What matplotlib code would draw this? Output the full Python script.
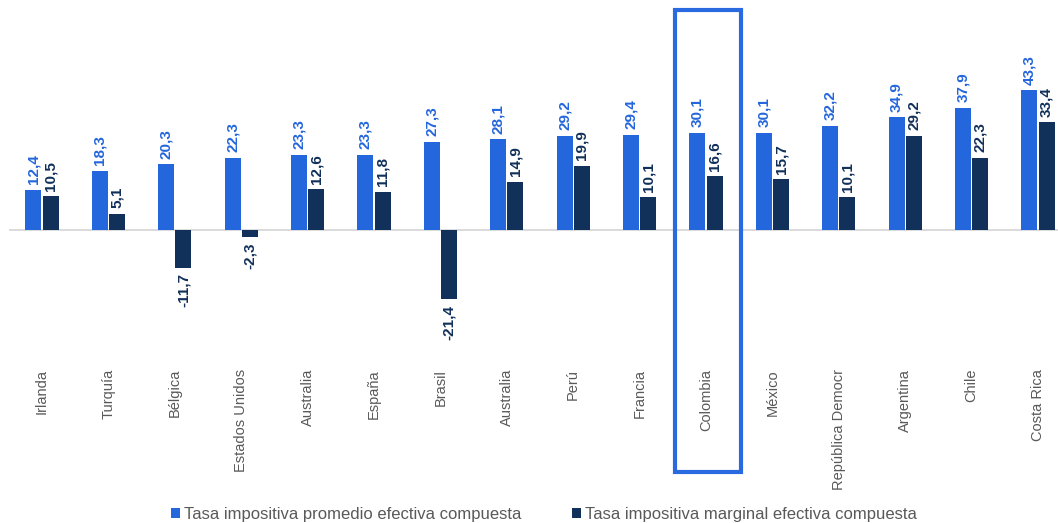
import matplotlib
matplotlib.use("Agg")
import matplotlib.pyplot as plt
from matplotlib.patches import Rectangle
import numpy as np

# ------------------------------------------------------------------
# data
# ------------------------------------------------------------------
countries = ["Irlanda", "Turquía", "Bélgica", "Estados Unidos", "Australia",
             "España", "Brasil", "Australia", "Perú", "Francia", "Colombia",
             "México", "República Democr", "Argentina", "Chile", "Costa Rica"]
promedio = [12.4, 18.3, 20.3, 22.3, 23.3, 23.3, 27.3, 28.1, 29.2, 29.4,
            30.1, 30.1, 32.2, 34.9, 37.9, 43.3]
marginal = [10.5, 5.1, -11.7, -2.3, 12.6, 11.8, -21.4, 14.9, 19.9, 10.1,
            16.6, 15.7, 10.1, 29.2, 22.3, 33.4]
highlight = "Colombia"

BLUE = "#2466dc"
NAVY = "#11305a"
GRAY = "#595959"

plt.rcParams["font.family"] = ["Liberation Sans", "DejaVu Sans"]

fig = plt.figure(figsize=(10.58, 5.23), dpi=100)
# zero line sits at ~230 px from top, 3.23 px per unit
ax = fig.add_axes([8.8 / 1058, (523 - 355) / 523, 1 - 8.8 / 1058, 355 / 523])
ax.set_xlim(-0.5, (1058 - 42) / 66.4)
ax.set_ylim(-(355 - 230) / 3.23, 230 / 3.23)

x = np.arange(len(countries))
w = 0.24
off = 0.13
ax.bar(x - off, promedio, w, color=BLUE, label="Tasa impositiva promedio efectiva compuesta")
ax.bar(x + off, marginal, w, color=NAVY, label="Tasa impositiva marginal efectiva compuesta")
ax.axhline(0, color="#d4d4d4", lw=1.2, zorder=0)

def fmt(v):
    return f"{v:.1f}".replace(".", ",")

for xi, v in zip(x, promedio):
    ax.annotate(fmt(v), (xi - off, v), xytext=(0, 4), textcoords="offset points",
                rotation=90, ha="center", va="bottom", fontsize=11,
                fontweight="bold", color=BLUE)
for xi, v in zip(x, marginal):
    if v >= 0:
        ax.annotate(fmt(v), (xi + off, v), xytext=(0, 4), textcoords="offset points",
                    rotation=90, ha="center", va="bottom", fontsize=11,
                    fontweight="bold", color=NAVY)
    else:
        ax.annotate(fmt(v), (xi + off, v), xytext=(0, -4), textcoords="offset points",
                    rotation=90, ha="center", va="top", fontsize=11,
                    fontweight="bold", color=NAVY)

ax.set_xticks(x)
ax.set_xticklabels(countries, rotation=90, fontsize=10.5, color=GRAY)
ax.tick_params(axis="x", length=0, pad=10)
ax.set_yticks([])
for s in ax.spines.values():
    s.set_visible(False)

# highlight box around Colombia
i = countries.index(highlight)
box = Rectangle((i - 0.47, -(472 - 230) / 3.23), 0.99, (472 - 10) / 3.23,
                fill=False, edgecolor="#2a6ae0", lw=3, clip_on=False)
ax.add_patch(box)

fig.legend(loc="center", ncol=2, frameon=False,
           handlelength=0.55, handleheight=0.55, handletextpad=0.25,
           columnspacing=3.0, bbox_to_anchor=(0.514, 1 - 514 / 523),
           borderpad=0, labelcolor=GRAY, prop={"size": 12})

fig.savefig("out.png", dpi=100)
